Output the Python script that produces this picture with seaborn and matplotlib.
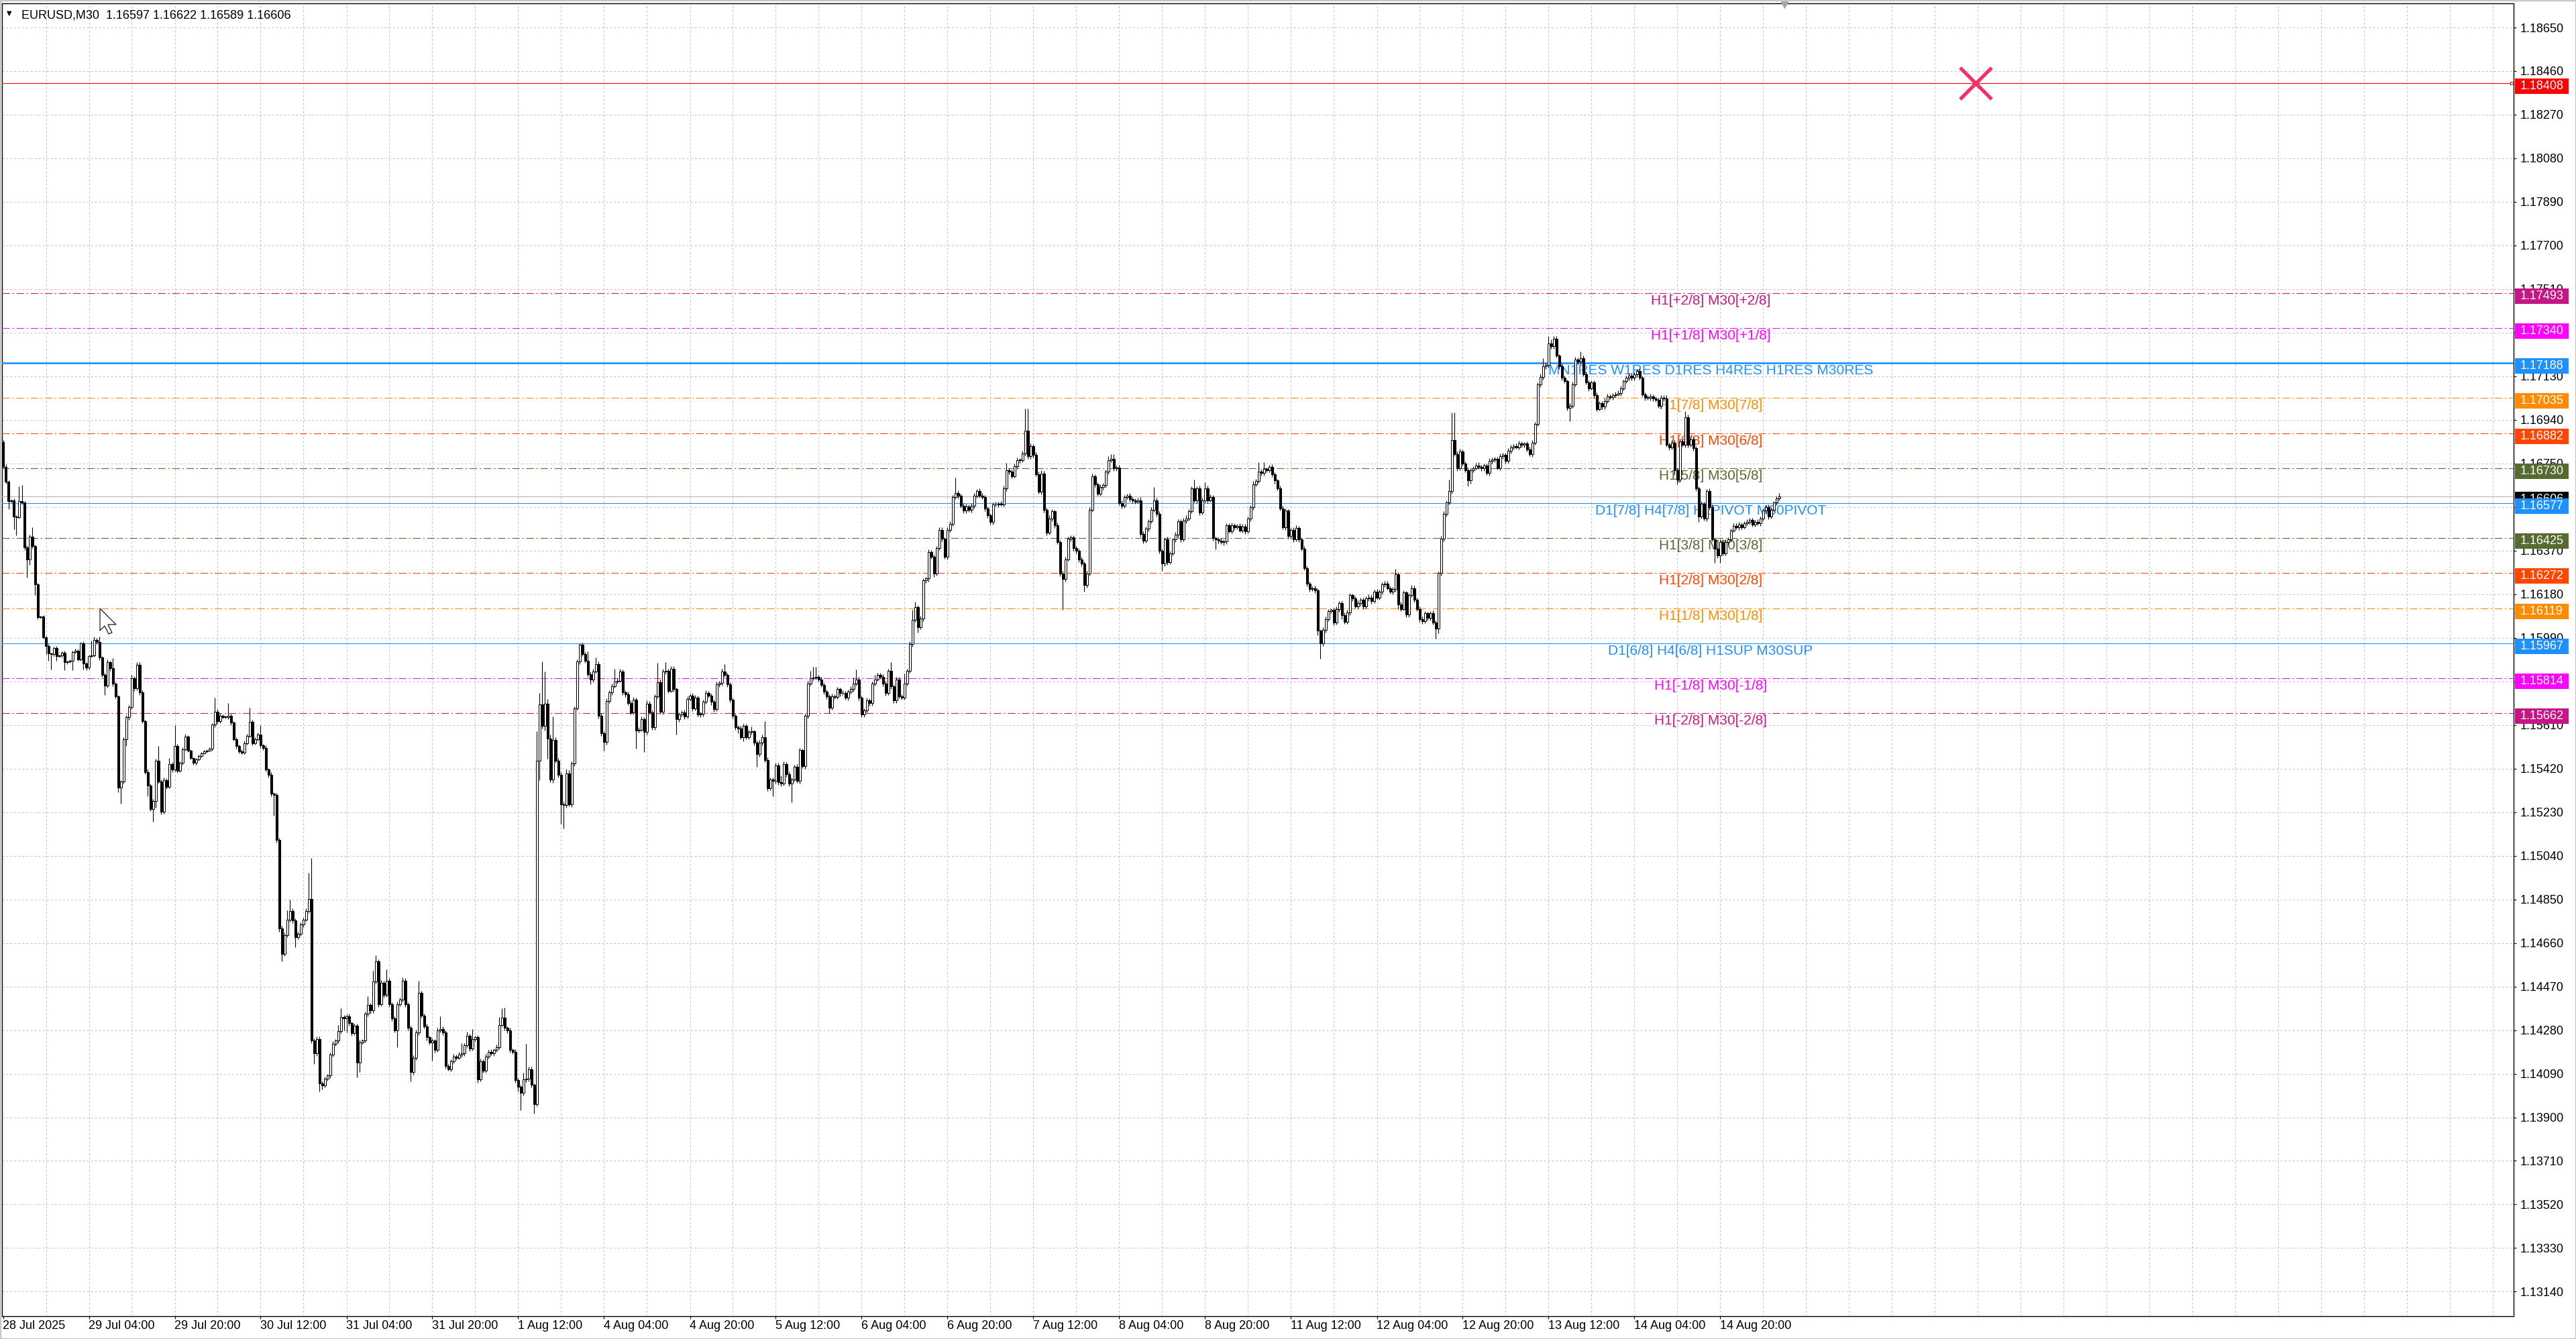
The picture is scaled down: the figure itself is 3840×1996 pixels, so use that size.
import numpy as np
import pandas as pd
import matplotlib
matplotlib.use("Agg")
import matplotlib.pyplot as plt
import seaborn as sns
from matplotlib.patches import Rectangle, Polygon
from matplotlib.transforms import blended_transform_factory

# ---------------- data (prices in 1e-5 points above 1.00000) ----------------
symbol_header = "EURUSD,M30  1.16597 1.16622 1.16589 1.16606"
first_open = 16844

closes = [
    16736,16671,16587,16590,16518,16515,16585,16580,16384,16330,16432,16390,16223,16080,16082,15993,
    15954,15921,15918,15945,15909,15912,15924,15883,15886,15890,15928,15933,15897,15966,15877,15860,
    15909,15912,15981,15972,15904,15829,15781,15883,15859,15790,15734,15336,15364,15549,15644,15689,
    15814,15770,15873,15752,15626,15405,15346,15244,15280,15455,15364,15232,15370,15340,15439,15415,
    15519,15411,15444,15503,15558,15499,15465,15444,15459,15475,15487,15495,15499,15507,15611,15668,
    15626,15650,15645,15644,15650,15620,15549,15519,15495,15490,15531,15563,15623,15531,15549,15567,
    15520,15510,15417,15393,15310,15305,15110,14724,14613,14693,14762,14800,14758,14685,14699,14740,
    14762,14800,14851,14234,14179,14241,14048,14040,14068,14082,14172,14220,14234,14275,14337,14330,
    14340,14310,14268,14299,14137,14227,14234,14351,14390,14365,14492,14579,14393,14486,14434,14496,
    14393,14330,14279,14393,14413,14496,14393,14289,14096,14158,14271,14441,14344,14296,14248,14227,
    14234,14193,14279,14285,14270,14123,14110,14144,14165,14160,14172,14179,14213,14255,14200,14241,
    14248,14064,14144,14103,14165,14186,14179,14193,14206,14303,14335,14289,14279,14193,14186,14062,
    14034,14006,14064,14068,14110,14041,13958,15455,15701,15607,15704,15552,15372,15545,15455,15393,
    15265,15262,15400,15265,15441,15683,15886,15959,15918,15890,15831,15807,15844,15876,15651,15573,
    15535,15715,15752,15780,15800,15803,15842,15752,15745,15706,15665,15720,15586,15590,15635,15579,
    15704,15665,15600,15734,15797,15669,15842,15845,15759,15855,15766,15635,15655,15665,15648,15724,
    15738,15683,15728,15655,15659,15710,15748,15738,15710,15679,15786,15793,15844,15828,15786,15720,
    15650,15600,15594,15557,15606,15557,15579,15582,15532,15483,15532,15557,15458,15335,15372,15365,
    15434,15360,15354,15440,15395,15354,15372,15428,15366,15500,15432,15649,15791,15815,15818,15821,
    15809,15784,15754,15735,15686,15735,15732,15766,15748,15750,15729,15754,15766,15791,15809,15729,
    15655,15674,15717,15705,15791,15809,15828,15821,15791,15748,15846,15778,15717,15809,15735,15729,
    15791,15846,15963,16068,16123,16037,16074,16240,16248,16363,16344,16270,16381,16461,16421,16344,
    16461,16486,16603,16621,16609,16566,16544,16563,16547,16566,16609,16630,16609,16603,16554,16523,
    16494,16572,16570,16575,16572,16640,16720,16714,16695,16738,16765,16763,16794,16892,16781,16824,
    16787,16704,16627,16707,16547,16449,16511,16541,16480,16406,16271,16246,16332,16421,16428,16381,
    16369,16332,16313,16221,16271,16548,16695,16658,16618,16646,16655,16714,16763,16769,16728,16732,
    16578,16566,16603,16609,16593,16590,16584,16590,16443,16412,16467,16498,16548,16590,16529,16369,
    16313,16418,16320,16357,16418,16440,16498,16418,16502,16511,16541,16642,16590,16640,16535,16590,
    16642,16590,16603,16424,16418,16412,16406,16410,16480,16455,16480,16473,16478,16458,16475,16453,
    16509,16559,16660,16672,16715,16708,16725,16720,16735,16702,16675,16642,16554,16473,16544,16433,
    16460,16418,16470,16418,16378,16292,16227,16202,16205,16197,16020,15965,16025,16071,16106,16111,
    16056,16116,16141,16090,16060,16100,16175,16161,16126,16141,16156,16126,16161,16166,16151,16192,
    16166,16192,16222,16227,16207,16192,16202,16267,16136,16116,16187,16091,16176,16207,16156,16116,
    16071,16061,16096,16076,16096,16056,16031,16272,16423,16529,16579,16630,16851,16791,16730,16801,
    16750,16720,16675,16720,16730,16742,16735,16728,16740,16708,16760,16766,16770,16730,16781,16786,
    16760,16806,16821,16826,16821,16836,16831,16836,16811,16791,16841,16922,17093,17128,17173,17178,
    17274,17260,17294,17219,17173,17123,17108,16992,17002,17093,17203,17193,17209,17138,17103,17078,
    17103,17047,16987,17012,16997,17022,17042,17040,17047,17052,17057,17078,17108,17123,17133,17123,
    17138,17153,17123,17052,17037,17035,17042,17034,17027,17002,17037,17032,16831,16821,16841,16720,
    16680,16846,16831,16952,16831,16856,16816,16640,16519,16574,16509,16630,16559,16418,16378,16348,
    16408,16358,16408,16418,16458,16478,16473,16484,16473,16489,16494,16504,16484,16494,16489,16509,
    16544,16559,16519,16549,16579,16597,16606,
]

upper_wick = [
    8,10,6,5,8,6,64,71,6,10,8,39,5,6,5,6,
    6,8,5,6,8,5,6,10,5,6,6,8,7,6,10,8,
    6,66,15,8,24,6,8,14,8,42,6,8,6,8,10,8,
    15,8,12,10,8,6,10,8,6,8,64,8,10,8,26,8,
    89,8,6,10,14,6,6,5,8,6,5,6,5,6,8,60,
    10,8,6,6,56,8,6,8,6,8,10,8,63,8,6,10,
    43,8,10,6,10,8,10,8,10,12,40,48,10,8,10,8,
    8,10,114,179,10,12,10,8,10,8,10,12,8,27,39,10,
    10,12,8,10,10,12,8,10,37,10,46,27,10,12,10,48,
    10,8,10,12,10,14,10,8,10,12,10,55,10,8,12,8,
    10,8,12,55,10,8,10,8,10,8,12,45,10,17,10,44,
    8,10,12,8,10,8,10,8,10,35,41,42,8,10,8,10,
    10,8,30,152,12,10,8,127,49,185,140,20,15,103,12,10,
    12,10,15,12,10,8,10,7,10,10,40,12,10,28,10,12,
    10,12,10,10,55,10,12,10,8,10,10,12,10,10,12,8,
    12,10,8,10,85,10,12,38,10,12,10,8,10,8,10,12,
    8,10,12,10,8,10,12,10,8,10,12,10,10,30,8,10,
    10,8,10,12,10,8,10,20,8,10,12,10,71,12,10,8,
    10,12,30,10,8,12,10,8,12,10,8,10,12,31,46,43,
    8,10,8,10,10,12,8,10,8,10,8,10,12,25,43,10,
    10,8,12,10,8,20,10,8,10,12,10,37,10,12,10,8,
    43,10,12,43,25,10,12,10,8,12,10,8,10,12,10,8,
    10,12,10,68,10,8,12,10,8,10,12,8,10,12,10,8,
    10,8,10,8,10,12,31,10,8,12,10,8,10,98,98,12,
    10,12,10,12,10,8,12,10,8,12,10,10,12,10,8,10,
    8,10,12,10,10,12,10,8,10,12,10,8,18,21,21,10,
    12,10,8,10,12,10,8,10,12,10,8,10,12,56,10,12,
    10,8,12,10,8,12,10,8,10,12,10,8,37,10,12,10,
    25,10,12,10,8,10,12,10,8,10,12,10,8,10,12,10,
    10,8,12,10,40,10,30,8,10,12,10,8,10,12,10,8,
    10,12,10,8,10,12,10,8,10,12,10,8,10,12,10,8,
    10,12,10,8,10,12,10,8,10,12,10,8,10,12,10,8,
    10,8,10,12,10,8,10,22,10,12,10,8,10,12,10,8,
    10,12,10,8,10,12,10,8,10,12,10,50,121,121,10,12,
    10,8,12,10,8,10,12,10,8,10,12,10,8,10,12,10,
    10,12,10,8,10,12,10,8,10,12,10,8,10,12,35,10,
    30,15,12,10,8,12,10,8,10,12,10,8,30,10,12,10,
    10,8,12,10,8,10,12,10,8,10,12,10,8,10,12,10,
    10,8,12,10,8,10,12,10,8,10,12,10,15,10,12,10,
    10,12,10,25,10,12,10,8,10,12,10,8,10,12,10,8,
    10,8,12,10,8,10,12,10,8,10,12,10,8,10,12,10,
    10,8,12,10,8,10,16,
]

lower_wick = [
    5,8,36,6,56,77,6,8,12,77,23,8,48,10,5,8,
    35,30,65,8,20,6,8,34,8,6,40,5,6,8,24,10,
    7,6,6,8,10,8,39,8,12,10,8,20,68,10,30,12,
    10,12,8,10,8,8,47,10,56,30,8,12,10,8,6,10,
    8,10,6,8,6,8,5,8,6,5,6,5,6,5,8,10,
    12,8,6,6,8,10,8,12,10,8,8,6,8,10,8,6,
    10,8,10,12,10,91,12,15,34,10,8,10,12,44,10,8,
    10,8,10,10,46,12,35,20,10,8,10,8,10,12,8,52,
    60,10,12,10,62,41,10,8,10,12,10,10,12,8,12,8,
    12,10,8,73,10,8,12,10,41,10,8,12,10,8,12,10,
    80,10,8,10,12,10,8,10,8,10,8,10,10,8,12,10,
    10,12,8,10,8,10,8,10,8,10,8,10,12,10,10,12,
    20,76,10,10,12,12,41,10,85,12,20,90,12,15,10,12,
    86,103,12,10,12,10,8,10,8,8,10,20,10,8,12,10,
    36,10,8,10,8,10,8,10,12,10,8,10,78,10,8,87,
    10,8,12,10,8,10,12,10,10,8,12,67,10,8,12,10,
    10,12,10,8,10,12,8,10,12,10,8,10,12,8,10,12,
    12,10,20,10,18,10,8,12,10,55,10,12,10,12,10,67,
    10,12,10,8,10,12,80,10,8,12,10,12,10,8,10,10,
    10,8,10,12,24,10,8,10,12,8,10,12,8,10,8,12,
    12,10,8,10,12,10,8,10,12,10,8,10,12,10,8,10,
    10,8,10,12,10,25,10,12,10,12,10,15,10,8,12,10,
    12,10,8,10,12,10,12,10,8,10,12,10,8,10,12,10,
    10,12,8,10,8,10,10,12,10,8,12,10,8,10,12,10,
    12,10,8,12,10,12,10,12,10,8,12,135,10,8,10,12,
    10,12,10,31,12,10,8,12,10,8,10,12,10,8,12,10,
    10,12,10,8,10,12,10,8,12,10,8,12,10,8,12,10,
    30,10,12,10,8,10,12,10,8,12,10,8,10,12,10,8,
    10,12,8,10,43,10,8,12,10,8,10,12,10,8,10,12,
    8,10,12,10,8,10,12,10,8,10,12,10,8,10,12,10,
    12,10,8,12,10,8,12,10,8,12,20,65,10,12,10,8,
    10,8,12,20,10,8,12,10,8,10,12,10,8,10,12,10,
    8,10,12,10,8,10,12,10,20,10,8,12,10,8,12,10,
    12,10,8,12,10,8,46,20,10,12,10,8,12,10,12,10,
    8,10,25,12,10,8,10,12,10,8,10,12,10,8,10,12,
    10,8,12,10,8,10,12,10,8,10,12,10,8,10,12,10,
    10,12,10,8,12,10,8,12,58,10,8,12,10,8,10,12,
    8,12,10,8,12,10,8,10,12,10,8,12,10,8,10,12,
    10,12,8,10,12,8,10,12,8,10,12,10,8,12,10,20,
    20,10,8,12,10,8,12,10,25,10,8,12,10,8,61,12,
    31,10,8,12,10,8,10,12,10,8,10,12,10,8,10,12,
    8,10,12,10,8,10,8,
]

x_labels = ["28 Jul 2025", "29 Jul 04:00", "29 Jul 20:00", "30 Jul 12:00", "31 Jul 04:00",
            "31 Jul 20:00", "1 Aug 12:00", "4 Aug 04:00", "4 Aug 20:00", "5 Aug 12:00",
            "6 Aug 04:00", "6 Aug 20:00", "7 Aug 12:00", "8 Aug 04:00", "8 Aug 20:00",
            "11 Aug 12:00", "12 Aug 04:00", "12 Aug 20:00", "13 Aug 12:00", "14 Aug 04:00",
            "14 Aug 20:00"]
x_label_bars = [0, 32, 64, 96, 128, 160, 192, 224, 256, 288, 320, 352, 384, 416, 448,
                480, 512, 544, 576, 608, 640]

y_tick_labels = ["1.13140", "1.13330", "1.13520", "1.13710", "1.13900", "1.14090", "1.14280",
                 "1.14470", "1.14660", "1.14850", "1.15040", "1.15230", "1.15420", "1.15610",
                 "1.15800", "1.15990", "1.16180", "1.16370", "1.16560", "1.16750", "1.16940",
                 "1.17130", "1.17320", "1.17510", "1.17700", "1.17890", "1.18080", "1.18270",
                 "1.18460", "1.18650"]

level_prices = [1.18408, 1.17493, 1.17340, 1.17188, 1.17035, 1.16882, 1.16730,
                1.16577, 1.16425, 1.16272, 1.16119, 1.15967, 1.15814, 1.15662]
level_texts = ["", "H1[+2/8] M30[+2/8]", "H1[+1/8] M30[+1/8]",
               "MN1RES W1RES D1RES H4RES H1RES M30RES", "H1[7/8] M30[7/8]",
               "H1[6/8] M30[6/8]", "H1[5/8] M30[5/8]", "D1[7/8] H4[7/8] H1PIVOT M30PIVOT",
               "H1[3/8] M30[3/8]", "H1[2/8] M30[2/8]", "H1[1/8] M30[1/8]",
               "D1[6/8] H4[6/8] H1SUP M30SUP", "H1[-1/8] M30[-1/8]", "H1[-2/8] M30[-2/8]"]
level_colors = ["#FF0000", "#C71585", "#FF00FF", "#1E90FF", "#FF8C00", "#FF4500", "#556B2F",
                "#1E90FF", "#556B2F", "#FF4500", "#FF8C00", "#1E90FF", "#FF00FF", "#C71585"]
level_kinds = ["solid", "dashdot", "dashdot", "thick", "dashdot", "dashdot", "dashdot",
               "solid", "dashdot", "dashdot", "dashdot", "solid", "dashdot", "dashdot"]
bid_price = 1.16606
mark_bar = 735.25
mark_price = 1.18408

# ---------------- build frame ----------------
n = min(len(closes), len(upper_wick), len(lower_wick))
c = np.array(closes[:n], dtype=float) / 1e5 + 1.0
o = np.concatenate([[first_open / 1e5 + 1.0], c[:-1]])
hi = np.maximum(o, c) + np.array(upper_wick[:n]) / 1e5
lo = np.minimum(o, c) - np.array(lower_wick[:n]) / 1e5
df = pd.DataFrame({"bar": np.arange(n), "open": o, "high": hi, "low": lo, "close": c})

# ---------------- figure ----------------
W, H = 3840, 1996
sns.set_theme(style="white")
plt.rcParams['font.family'] = ['Liberation Sans', 'DejaVu Sans']
fig = plt.figure(figsize=(W / 100, H / 100), dpi=100)
fig.patch.set_facecolor("white")

ax_l, ax_r, ax_t, ax_b = 3, 3746.5, 4.6, 1962
ax = fig.add_axes([ax_l / W, 1 - ax_b / H, (ax_r - ax_l) / W, (ax_b - ax_t) / H])
ax.set_facecolor("white")

px_per_price = 34200.0
ppx = 1.0 / px_per_price
y_top = 1.18650 + (41 - ax_t) * ppx
y_bot = 1.18650 - (ax_b - 41) * ppx
ax.set_ylim(y_bot, y_top)
x0 = (ax_l - 4.5) / 4.0
x1 = (ax_r - 4.5) / 4.0
ax.set_xlim(x0, x1)

# grid
grid_kw = dict(color="#C0C0C0", lw=0.72, ls=(0, (3, 3)), zorder=1)
for k in range(16, int(x1) + 1, 16):
    ax.axvline(k, **grid_kw)
yt = [float(s) for s in y_tick_labels]
for v in yt:
    ax.axhline(v, **grid_kw)

# level lines + texts
for p, t, col, kind in zip(level_prices, level_texts, level_colors, level_kinds):
    if kind == "dashdot":
        ax.axhline(p, color=col, lw=0.8, ls=(0, (10, 3.5, 2, 3.5)), zorder=3)
    elif kind == "thick":
        ax.axhline(p, color=col, lw=1.9, zorder=3)
    else:
        ax.axhline(p, color=col, lw=0.8, zorder=3)
    if t:
        ax.text(636.4, p - 2 * ppx, t, color=col, fontsize=15, ha="center", va="top",
                zorder=4, family=['Liberation Sans', 'DejaVu Sans'])
ax.axhline(bid_price, color="#B4B4B4", lw=0.8, zorder=3)

# candles
bull = (df["close"] >= df["open"]).values
ax.vlines(df["bar"], df["low"], df["high"], color="black", lw=0.8, zorder=5)
body_lo = np.minimum(df["open"], df["close"]).values
body_h = np.maximum(np.abs(df["close"] - df["open"]).values, 2.5e-5)
ax.bar(df["bar"][bull], body_h[bull], bottom=body_lo[bull], width=0.55,
       color="white", edgecolor="black", linewidth=0.75, zorder=6)
ax.bar(df["bar"][~bull], body_h[~bull], bottom=body_lo[~bull], width=0.55,
       color="black", edgecolor="black", linewidth=0.75, zorder=6)

# red X object
sns.scatterplot(x=[mark_bar], y=[mark_price], marker="x", s=1150, color="#F0336A",
                linewidth=3.8, ax=ax, legend=False, zorder=7)
ax.plot([x1 - 0.6], [level_prices[0]], marker="s", ms=3.2, mfc="white", mec="#FF0000",
        mew=0.8, clip_on=False, zorder=8)

# chart shift marker at top
ax.plot([664], [y_top - 2 * ppx], marker="v", ms=7, color="#A8A8A8", clip_on=False, zorder=8)

# axes styling
for s in ["left", "top", "right", "bottom"]:
    ax.spines[s].set_visible(True)
    ax.spines[s].set_color("black")
    ax.spines[s].set_linewidth(1.0)
ax.yaxis.tick_right()
ax.set_yticks(yt)
ax.set_yticklabels(y_tick_labels)
ax.tick_params(axis="y", which="major", right=True, left=False, length=3, width=0.8,
               pad=4.3, labelsize=13, colors="black")
ax.set_xticks(x_label_bars)
ax.set_xticklabels(x_labels, ha="left")
ax.tick_params(axis="x", which="major", bottom=True, length=3, width=0.8, pad=1.5,
               labelsize=13, colors="black")
for lab in ax.get_xticklabels():
    lab.set_horizontalalignment("left")
ax.set_xlabel("")
ax.set_ylabel("")

# right-axis price boxes
trans = blended_transform_factory(ax.transAxes, ax.transData)
bx0 = (3748.5 - ax_l) / (ax_r - ax_l)
bx1 = (3828.8 - ax_l) / (ax_r - ax_l)
tx = (3756.5 - ax_l) / (ax_r - ax_l)
bh = 23 * ppx

def price_box(p, face, z):
    cy = p - 4.5 * ppx
    ax.add_patch(Rectangle((bx0, cy - bh / 2), bx1 - bx0, bh, transform=trans,
                           facecolor=face, edgecolor="none", clip_on=False, zorder=z))
    ax.text(tx, cy, f"{p:.5f}", transform=trans, color="white", fontsize=13,
            ha="left", va="center", clip_on=False, zorder=z + 0.5)

price_box(bid_price, "black", 20)
for p, col in zip(level_prices, level_colors):
    price_box(p, col, 21)

# header
fig.text(32.5 / W, 1 - 23.5 / H, symbol_header, fontsize=13, color="black",
         ha="left", va="center")
fig.text(14 / W, 1 - 20 / H, "\u25BC", fontsize=7, color="black", ha="center", va="center",
         family=["DejaVu Sans"])

# mouse cursor
tip = (149, 907)
pts = [(0, 0), (0, 33), (7, 26), (13, 38), (18, 36), (12, 24), (24, 24)]
poly = [((tip[0] + a) / W, 1 - (tip[1] + b) / H) for a, b in pts]
fig.patches.append(Polygon(poly, closed=True, facecolor="white", edgecolor="black",
                           lw=0.8, transform=fig.transFigure, figure=fig, zorder=30))

# outer window frame
fig.patches.append(Rectangle((0, 0), 1, 1, transform=fig.transFigure, fill=False,
                             edgecolor="#C8C8C8", lw=2.5, figure=fig))

fig.savefig("out.png", dpi=100, facecolor="white")
